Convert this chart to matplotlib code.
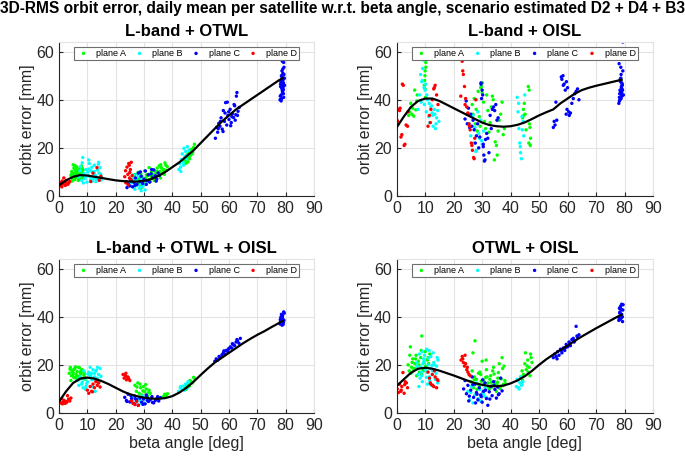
import matplotlib
matplotlib.use("Agg")
import matplotlib.pyplot as plt

plt.rcParams['font.family'] = ['Liberation Sans', 'DejaVu Sans']

suptitle = "3D-RMS orbit error, daily mean per satellite w.r.t. beta angle, scenario estimated D2 + D4 + B3"
panel_titles = ["L-band + OTWL", "L-band + OISL", "L-band + OTWL + OISL", "OTWL + OISL"]
plane_names = ["plane A", "plane B", "plane C", "plane D"]
plane_colors = ["#00ff00", "#00ffff", "#0000ff", "#ff0000"]
x_ticks = [0, 10, 20, 30, 40, 50, 60, 70, 80, 90]
y_ticks = [0, 20, 40, 60]

# ---------------- panel 1: L-band + OTWL ----------------
A1_beta = [4.2,4.5,4.8,5.0,5.1,5.3,5.5,5.6,5.8,6.0,
           6.1,6.3,6.5,6.6,6.8,7.0,7.1,7.3,7.5,7.7,
           7.9,8.1,8.3,8.5,8.7,4.6,5.4,6.2,7.2,8.0,
           26.2,26.8,27.3,27.9,28.4,28.8,29.3,29.7,30.2,30.6,
           31.1,31.5,32.0,32.4,32.9,33.3,33.8,34.2,34.7,35.1,
           35.6,36.0,36.5,37.0,37.4,37.9,27.0,28.1,29.9,31.8,
           33.6,35.4,36.8,38.2,44.2,44.6,45.0,45.3,45.7,46.0,
           46.3,46.7,47.0,47.4,47.8,45.5,46.5,47.2,44.8,46.1,
           47.6,45.9,
           26.5,27.6,28.9,30.4,31.3,32.6,33.9,34.9,35.8,36.3,
           37.2,37.7,29.1,30.9,32.2,34.4,35.9,28.2,33.1,36.9,
           4.4,5.2,5.9,6.4,6.9,7.4,7.8,8.2,8.6,5.7]
A1_err = [8.5,10.2,7.1,13.0,9.4,11.5,6.8,8.9,10.7,7.6,
          9.8,12.1,8.2,10.5,6.5,9.1,11.2,7.8,10.0,8.6,
          12.5,9.3,7.4,10.8,8.8,6.2,11.8,9.6,7.0,10.3,
          6.5,8.9,5.2,9.8,7.3,4.6,8.1,6.2,10.4,7.5,
          5.8,9.0,6.9,8.4,7.7,10.9,8.0,9.5,11.6,8.7,
          10.2,12.0,9.3,11.0,13.8,10.6,4.2,7.0,5.5,11.8,
          6.4,12.6,9.8,12.2,14.5,15.8,15.0,17.2,16.1,18.0,
          16.7,18.9,17.5,20.1,21.5,14.2,19.3,18.2,13.6,15.5,
          19.8,17.8,
          7.8,6.0,9.2,5.2,8.5,10.0,6.8,9.9,7.5,11.4,
          9.0,12.8,3.5,8.8,5.9,10.2,13.0,5.0,8.9,10.9,
          9.0,7.8,11.0,9.2,10.8,8.3,9.5,11.5,7.7,12.6]
B1_beta = [7.1,7.6,8.0,8.4,8.8,9.2,9.5,9.9,10.3,10.7,
           11.0,11.4,11.8,12.1,12.5,12.9,13.2,13.6,14.0,14.3,
           14.7,15.0,8.6,10.1,11.6,13.0,14.5,9.0,12.3,13.9,
           10.5,12.7,25.6,26.0,26.4,26.8,27.2,27.6,28.0,28.4,
           28.8,29.2,29.6,30.0,30.4,30.8,26.2,27.4,28.6,29.8,
           27.8,29.0,42.3,42.6,42.9,43.2,43.5,43.8,44.1,44.4,
           44.7,45.0,45.3,45.6,43.0,44.0,44.9,45.8,
           7.4,8.2,9.4,10.6,11.2,12.0,12.6,13.4,14.1,14.9]
B1_err = [8.0,12.2,6.5,16.0,9.3,7.2,11.0,5.8,8.6,13.5,
          7.9,10.4,6.2,9.7,12.8,8.3,6.9,10.9,14.0,7.5,
          9.1,8.0,5.4,10.0,12.0,6.0,11.8,9.0,7.3,13.2,
          15.0,8.8,5.5,3.8,7.2,2.8,6.0,4.4,8.3,3.2,
          5.2,7.0,4.0,6.6,2.5,5.8,8.8,6.4,3.5,4.8,
          9.2,2.2,11.0,13.5,12.0,15.2,17.5,14.0,19.8,16.3,
          18.5,15.5,20.5,17.0,10.2,12.8,16.8,19.0,
          10.5,13.8,8.0,11.2,6.8,8.0,10.2,7.6,9.6,6.6]
C1_beta = [24.0,24.5,25.0,25.5,26.0,26.5,27.0,27.5,28.0,28.5,
           29.0,29.5,30.0,30.5,31.0,31.5,32.0,32.5,33.0,33.5,
           34.0,34.5,35.0,35.5,25.2,26.8,28.7,30.8,32.7,34.3,
           55.2,55.6,56.0,56.4,56.8,57.2,57.6,58.0,58.4,58.8,
           59.2,59.6,60.0,60.4,60.8,61.2,61.6,62.0,62.4,62.8,
           63.2,63.6,56.2,57.9,59.4,61.0,62.6,58.6,60.6,62.2,
           57.0,59.9,61.8,63.0,78.0,78.2,78.4,78.6,78.8,79.0,
           79.2,79.4,79.6,78.1,78.5,78.9,79.3,78.3,78.7,79.1,
           79.5,78.4,78.8,79.2,78.6,79.0,78.2,79.4,
           78.9,79.1,78.7,79.3,78.5,79.0,78.8,79.2,78.6,79.4]
C1_err = [3.5,5.0,4.2,6.3,3.8,5.6,7.5,4.8,9.5,6.0,
          8.2,5.2,7.0,10.4,6.4,8.8,5.8,9.2,7.6,10.8,
          8.4,7.0,9.6,8.6,6.8,4.4,10.0,4.8,11.0,6.2,
          24.0,28.5,26.5,30.2,29.0,32.5,27.8,35.5,31.0,38.8,
          29.5,33.5,31.8,36.0,30.5,34.2,32.6,37.5,33.8,43.0,
          35.2,36.8,28.0,26.8,39.0,33.0,41.5,34.5,29.2,31.5,
          31.0,35.0,38.0,33.5,40.0,45.5,42.0,48.5,44.0,51.0,
          47.0,53.5,46.0,41.5,50.0,43.5,55.5,47.5,52.0,45.0,
          49.0,39.5,56.0,42.5,44.8,48.0,46.5,50.5,
          43.0,46.0,49.5,41.0,47.8,52.8,45.2,44.2,40.5,48.8]
D1_beta = [0.2,0.5,0.8,1.1,1.4,1.7,2.0,2.3,2.6,2.9,
           3.2,3.5,3.8,1.0,2.2,3.0,11.2,12.0,13.4,14.2,
           14.8,23.2,23.5,23.8,24.0,24.3,24.6,24.9,25.2,25.5,
           25.8,23.6,24.4,25.0,24.8,25.4]
D1_err = [4.2,5.5,4.8,6.2,5.0,7.5,5.8,4.6,6.5,5.2,
          4.9,5.6,6.0,3.8,4.4,5.1,6.0,9.5,11.8,6.5,
          8.2,8.0,10.5,6.0,12.0,9.0,13.5,7.5,11.0,14.0,
          8.5,5.5,4.6,9.8,12.8,6.8]
fit1_beta = [0,2.5,5,7.5,10,12.5,15,17.5,20,22.5,25,27.5,30,32.5,35,37.5,40,42.5,45,47.5,
             50,52.5,55,57.5,60,62.5,65,67.5,70,72.5,75,77.5,79]
fit1_err = [4.5,6.5,8.0,8.7,8.5,8.0,7.5,7.0,6.5,6.2,6.0,6.0,6.3,7.0,8.3,10.0,12.0,14.0,16.5,19.0,
            22.0,25.0,28.0,31.0,33.5,36.0,38.0,40.0,42.0,44.0,46.0,48.0,49.0]

# ---------------- panel 2: L-band + OISL ----------------
A2_beta = [4.2,4.5,4.9,5.3,5.6,6.0,6.3,6.7,7.0,7.2,
           9.8,10.0,10.2,10.1,9.9,10.3,10.0,10.4,9.7,10.2,
           26.5,26.8,27.2,27.6,27.9,28.3,28.6,29.0,29.3,29.7,
           30.1,30.5,30.8,31.2,31.6,32.0,32.4,32.8,33.2,33.6,
           33.9,34.3,34.6,35.0,35.3,35.6,36.0,36.5,37.0,37.4,
           37.8,44.2,44.5,44.8,45.1,45.4,46.2,46.5,46.8,47.0,
           46.4,46.6,46.9,44.6,29.5,30.0]
A2_err = [33.5,35.0,38.5,34.0,36.5,33.2,44.0,35.8,39.5,42.0,
          48.0,52.0,55.5,41.0,50.0,57.0,44.5,40.5,46.0,53.5,
          38.0,34.0,40.5,30.0,36.0,27.0,43.5,33.0,29.0,45.5,
          47.0,39.0,31.0,28.0,42.0,35.5,26.5,30.5,37.0,41.5,
          40.0,15.0,22.5,21.0,17.0,27.0,31.5,34.0,39.0,25.5,
          28.0,32.5,36.0,38.5,34.0,27.5,45.5,44.0,28.5,24.0,
          22.0,30.0,21.0,33.5,45.0,43.0]
B2_beta = [7.5,8.0,8.4,8.8,9.1,9.4,9.7,10.0,10.4,10.8,
           11.2,11.6,12.0,12.4,12.8,13.2,13.6,14.0,14.4,14.8,
           9.0,9.6,10.6,11.4,12.6,13.8,8.6,10.2,12.2,13.4,
           25.5,26.0,26.5,27.0,27.5,28.0,28.5,29.0,29.5,30.0,
           30.5,26.8,27.8,28.8,29.8,42.3,42.6,42.9,43.2,43.5,
           43.8,44.1,44.4,42.8,43.4,44.0,44.6,45.0]
B2_err = [36.0,42.0,50.5,47.5,53.0,56.5,38.0,44.0,35.0,40.0,
          33.0,30.5,37.0,34.5,29.0,36.0,28.0,32.5,35.5,31.0,
          48.0,45.0,42.0,38.5,33.5,30.0,39.0,46.5,37.5,34.0,
          30.0,25.0,33.0,22.0,28.5,19.0,35.0,24.0,31.5,21.5,
          27.0,33.5,18.5,26.0,23.0,41.0,35.0,28.0,22.0,18.0,
          15.5,27.5,31.0,38.5,20.5,33.0,25.0,42.0]
C2_beta = [24.0,24.4,24.8,25.2,25.6,26.0,26.4,26.8,27.2,27.6,
           28.0,28.4,28.8,29.2,29.6,30.0,30.4,30.8,31.2,31.6,
           32.0,32.4,32.8,33.2,33.6,34.0,34.4,34.8,35.2,35.6,
           29.8,30.2,30.6,31.0,29.6,30.4,55.0,55.3,55.6,55.9,
           56.2,58.0,58.4,58.8,59.2,59.6,60.0,60.4,59.8,60.6,
           61.0,61.5,62.0,62.5,63.0,63.5,64.0,58.5,57.8,59.5,
           78.0,78.2,78.4,78.6,78.8,79.0,79.2,79.4,79.6,78.1,
           78.5,78.9,79.3,78.3,78.7,79.1,79.5,78.4,78.8,79.2,
           78.6,79.0,78.2,79.4,78.9,79.1,78.7,79.3,78.5,79.0]
C2_err = [32.0,39.5,30.0,36.5,28.5,34.0,29.0,31.5,27.5,22.0,
          25.0,30.0,20.0,24.5,46.5,44.0,21.5,14.5,23.5,26.0,
          24.0,18.0,33.5,28.0,36.0,37.0,35.5,38.0,31.5,32.5,
          40.5,42.0,17.0,15.0,47.0,20.5,28.5,31.0,29.5,39.0,
          31.5,48.5,50.0,46.5,44.0,47.5,45.0,35.0,36.0,33.5,
          34.5,38.5,40.5,42.5,43.5,44.5,40.0,46.0,49.5,34.0,
          38.5,41.0,44.0,47.5,40.5,43.0,46.0,52.0,42.0,55.0,
          48.5,45.5,58.0,42.5,49.0,44.5,61.0,40.0,50.5,46.5,
          43.5,47.0,39.5,64.0,45.0,41.5,53.5,44.0,48.0,42.0]
D2_beta = [0.1,0.6,1.0,1.5,1.8,2.3,2.6,2.9,3.3,3.8,
           4.0,0.3,1.2,2.0,11.0,11.5,12.0,12.5,13.0,13.5,
           14.0,14.5,11.8,13.2,22.5,23.0,23.4,23.8,24.2,24.6,
           25.0,25.4,25.8,26.2,26.6,27.0,27.4,27.8,23.2,24.0,
           24.8,25.6,26.4,27.2]
D2_err = [31.5,36.0,35.5,24.5,25.5,46.0,21.0,21.5,29.5,29.0,
          35.0,31.0,36.5,46.5,29.0,33.5,36.0,40.0,44.5,46.0,
          42.0,38.0,30.5,45.0,41.5,56.0,50.5,45.5,40.5,37.0,
          34.5,30.0,27.5,22.0,19.0,16.0,24.0,40.0,52.0,38.0,
          34.0,29.0,21.0,15.5]
fit2_beta = [0,2.5,5,7.5,10,12.5,15,17.5,20,22.5,25,27.5,30,32.5,35,37.5,40,42.5,45,47.5,
             50,52.5,55,57.5,60,62.5,65,67.5,70,72.5,75,77.5,79]
fit2_err = [28.5,33.0,37.0,39.5,40.5,40.5,39.5,38.0,36.5,35.0,33.5,32.0,30.5,29.5,29.0,28.8,29.0,29.6,30.6,32.0,
            33.5,34.8,36.0,38.5,40.5,42.5,44.0,45.0,45.8,46.5,47.2,47.9,48.3]

# ---------------- panel 3: L-band + OTWL + OISL ----------------
A3_beta = [3.6,4.0,4.4,4.8,5.2,5.6,6.0,6.4,6.8,7.2,
           7.6,8.0,8.4,8.8,9.2,4.2,5.0,5.8,6.6,7.4,
           8.2,9.0,4.6,6.2,7.8,26.8,27.3,27.8,28.3,28.8,
           29.3,29.8,30.3,30.8,31.3,31.8,32.2,27.5,28.6,29.6,
           30.6,31.6,36.8,37.3,37.8,38.3,44.5,45.0,45.5,46.0,
           46.5,47.0,47.5,48.0,45.2,46.2,47.2,44.8,
           3.9,4.9,5.9,6.9,7.9,8.9,5.3,7.0]
A3_err = [16.5,19.0,15.5,17.8,14.8,18.5,16.0,17.2,15.2,18.8,
          16.2,14.5,17.5,15.8,14.0,13.5,16.8,19.2,13.8,17.0,
          18.0,15.0,17.2,15.5,16.6,11.5,9.0,12.5,8.2,10.5,
          7.5,11.0,8.8,10.0,7.0,9.5,8.2,10.8,12.0,9.2,
          11.8,8.5,6.8,7.8,7.2,8.0,10.5,11.5,12.0,11.2,
          13.0,12.5,14.8,14.2,10.8,13.5,12.8,9.8,
          18.2,16.0,14.5,19.0,17.8,16.8,18.2,14.6]
B3_beta = [6.5,7.0,7.5,8.0,8.5,9.0,9.5,10.0,10.5,11.0,
           11.5,12.0,12.5,13.0,13.5,14.0,14.5,8.2,9.2,10.2,
           11.2,12.2,13.2,14.2,7.2,12.8,25.8,26.5,27.2,27.9,
           28.6,29.3,30.0,30.7,26.2,27.6,29.0,30.4,42.2,42.8,
           43.4,44.0,44.6,45.2,45.8,43.0,44.3,45.5,
           9.8,10.8,11.8,12.6,13.6,14.8,8.8,11.6]
B3_err = [13.5,11.5,15.0,12.0,10.5,14.2,11.0,13.0,17.0,19.0,
          16.5,18.0,15.0,17.5,14.5,16.0,18.5,12.8,10.0,16.2,
          15.5,14.0,17.8,13.2,14.0,9.0,5.5,6.5,4.5,6.0,
          5.0,7.0,4.2,5.8,6.8,5.2,4.0,6.4,9.0,10.5,
          9.8,11.2,12.0,10.2,12.8,11.0,9.5,13.0,
          12.2,15.8,11.0,16.5,19.0,15.2,17.5,13.8]
C3_beta = [23.2,23.8,24.4,25.0,25.6,26.2,26.8,27.4,28.0,28.6,
           29.2,29.8,30.4,31.0,31.6,32.2,32.8,33.4,34.0,34.6,
           35.2,35.8,24.0,25.4,27.0,29.6,31.2,33.0,34.8,30.8,
           55.0,55.5,56.0,56.5,57.0,57.5,58.0,58.5,59.0,59.5,
           60.0,60.5,61.0,61.5,62.0,62.5,63.0,63.5,64.0,56.8,
           58.2,59.8,61.2,62.8,78.0,78.3,78.6,78.9,79.2,79.5,
           78.1,78.4,78.7,79.0,79.3,78.2,78.8,79.4,78.5,79.1]
C3_err = [6.5,5.2,7.8,4.6,6.0,4.0,7.0,5.5,3.2,6.2,
          4.5,5.8,3.8,6.6,4.8,5.5,6.8,4.2,5.2,6.0,
          5.0,6.4,4.8,7.2,5.8,3.6,5.2,4.4,6.8,7.5,
          21.5,22.5,22.0,23.5,23.0,24.2,25.0,24.5,26.0,25.5,
          26.8,27.5,27.0,28.5,28.0,29.5,30.0,29.0,31.0,23.0,
          25.8,26.5,28.8,30.5,37.0,39.5,38.0,40.5,37.5,41.5,
          38.8,40.0,36.5,39.0,42.0,37.8,39.8,38.5,41.0,36.8]
D3_beta = [0.2,0.6,1.0,1.4,1.8,2.2,2.6,3.0,3.4,3.8,
           4.2,1.2,2.8,10.0,10.5,11.0,11.5,12.0,12.5,13.0,
           13.5,14.0,14.5,11.8,13.2,22.6,23.0,23.4,23.8,24.2,
           24.6,25.0,23.6,24.4,25.6,26.2,26.8,27.4,28.0]
D3_err = [5.5,4.2,6.0,4.6,5.2,4.0,4.8,7.2,5.8,5.0,
          6.2,3.8,4.5,9.5,8.2,11.0,9.0,12.0,10.5,13.0,
          11.5,12.5,10.8,8.8,13.5,16.0,14.5,15.5,13.8,15.0,
          14.2,13.5,16.5,14.8,5.0,4.0,3.5,4.8,3.2]
fit3_beta = [0,2.5,5,7.5,10,12.5,15,17.5,20,22.5,25,27.5,30,32.5,35,37.5,40,42.5,45,47.5,
             50,52.5,55,57.5,60,62.5,65,67.5,70,72.5,75,77.5,79]
fit3_err = [4.7,9.0,12.5,14.3,14.7,14.3,13.3,12.0,10.5,9.0,7.8,7.0,6.4,6.0,5.9,6.2,7.0,8.5,10.5,13.0,
            15.8,18.5,21.0,23.0,25.0,27.0,29.0,30.8,32.5,34.0,35.7,37.3,38.3]

# ---------------- panel 4: OTWL + OISL ----------------
A4_beta = [4.0,4.4,4.8,5.2,5.6,6.0,6.4,6.8,7.2,7.6,
           8.0,8.4,8.8,9.2,9.6,10.0,10.4,10.8,11.2,11.6,
           5.0,5.4,6.2,7.0,7.8,8.6,9.4,10.2,11.0,8.8,
           4.6,6.6,26.0,26.5,27.0,27.5,28.0,28.5,29.0,29.5,
           30.0,30.5,31.0,31.5,32.0,32.5,33.0,33.5,34.0,34.5,
           35.0,35.5,36.0,36.5,37.0,37.5,38.0,26.8,27.3,28.2,
           29.2,30.2,31.2,32.2,33.2,34.2,35.2,36.2,37.2,38.2,
           43.5,44.0,44.5,45.0,45.5,46.0,46.5,47.0,47.5,44.2,
           45.2,46.2,47.2,45.8,46.8,
           27.2,28.7,30.7,31.7,32.7,33.7,34.7,35.7,36.7,37.7,
           29.7,31.4,33.4,35.4,37.4]
A4_err = [20.0,17.5,27.5,19.0,22.5,18.0,20.5,24.0,19.5,21.5,
          17.0,23.0,32.0,18.5,21.0,25.5,19.0,22.0,20.5,24.5,
          16.5,21.0,18.5,15.5,20.0,26.0,17.5,19.5,23.0,16.0,
          24.0,22.5,13.0,17.5,10.5,30.0,14.0,12.0,11.0,16.0,
          21.5,13.5,9.5,18.0,12.5,10.0,15.5,11.5,19.0,13.0,
          9.0,14.5,20.5,11.0,23.0,12.0,13.5,25.0,15.0,9.8,
          17.0,8.5,14.8,10.8,12.8,16.2,11.8,10.2,18.5,12.2,
          15.0,17.5,16.0,20.5,18.0,22.0,19.0,24.5,21.0,13.5,
          25.0,17.0,23.0,19.5,15.5,
          13.8,16.5,12.0,15.0,14.0,17.5,12.2,16.8,14.2,19.5,
          13.2,22.0,10.8,12.8,11.4]
B4_beta = [7.0,7.5,8.0,8.5,9.0,9.5,10.0,10.5,11.0,11.5,
           12.0,12.5,13.0,13.5,14.0,14.5,7.8,8.8,9.8,10.8,
           11.8,12.8,13.8,9.2,10.6,12.2,13.2,8.2,14.2,11.4,
           25.0,25.6,26.2,26.8,27.4,28.0,28.6,29.2,29.8,30.4,
           31.0,31.6,26.0,27.6,29.0,30.8,42.0,42.5,43.0,43.5,
           44.0,42.3,42.8,43.3,43.8,44.3,
           7.2,8.6,9.6,10.4,11.2,12.4,13.4,14.4,9.0,11.6]
B4_err = [21.0,16.0,24.5,19.0,13.0,22.5,18.0,26.5,20.0,15.0,
          23.5,17.5,21.0,14.0,19.5,22.0,11.0,15.5,24.0,12.0,
          18.5,25.0,16.5,20.5,17.0,11.5,20.0,14.5,23.0,26.0,
          9.0,5.5,11.0,4.2,7.5,12.5,6.0,9.8,4.8,8.0,
          10.5,6.5,8.5,12.0,5.2,7.0,11.0,13.5,10.0,15.0,
          12.0,14.0,10.5,12.5,11.5,13.0,
          19.5,17.0,21.5,14.8,22.8,19.8,17.8,12.5,25.5,13.5]
C4_beta = [23.5,24.0,24.5,25.0,25.5,26.0,26.5,27.0,27.5,28.0,
           28.5,29.0,29.5,30.0,30.5,31.0,31.5,32.0,32.5,33.0,
           33.5,34.0,34.5,35.0,35.5,36.0,36.5,37.0,25.3,26.7,
           28.2,29.7,31.2,32.7,34.2,35.7,30.2,27.7,55.0,55.5,
           56.0,56.5,57.0,57.5,58.0,58.5,59.0,59.5,60.0,60.5,
           61.0,61.5,62.0,62.5,63.0,63.5,64.0,56.3,57.8,59.3,
           60.8,62.3,63.3,78.0,78.3,78.6,78.9,79.2,79.5,78.1,
           78.4,78.7,79.0,79.3,78.2,78.8,79.4,78.5,79.1,79.0]
C4_err = [10.0,13.5,8.0,11.5,7.0,9.5,15.0,6.5,12.0,8.5,
          5.5,10.5,7.5,4.5,9.0,12.5,6.0,3.2,8.8,11.0,
          7.2,13.0,9.8,6.2,10.8,8.0,14.5,9.2,5.0,11.8,
          7.8,6.8,9.5,5.8,11.5,7.6,13.8,4.2,23.0,24.5,
          23.5,25.5,24.0,26.5,25.0,27.0,26.0,28.5,27.5,29.5,
          28.0,30.5,31.0,30.0,36.0,31.5,32.5,22.5,26.0,27.2,
          29.0,29.5,32.0,38.5,41.5,39.0,43.0,40.0,45.0,39.5,
          42.0,44.5,41.0,38.0,43.5,40.8,42.8,44.0,39.8,45.2]
D4_beta = [0.2,0.6,1.0,1.4,1.8,2.2,2.6,3.0,3.4,3.8,
           1.6,2.8,11.0,11.5,12.0,12.5,13.0,13.5,14.0,14.5,
           11.8,13.2,14.2,12.6,22.6,23.0,23.4,23.8,24.2,24.6,
           25.0,25.4,25.8,23.2,24.0,24.8]
D4_err = [10.0,8.5,12.0,9.0,11.0,16.8,8.2,13.0,12.5,10.5,
          9.5,11.8,17.0,14.5,12.0,16.0,11.0,15.0,10.5,13.5,
          12.5,17.5,14.0,11.5,22.0,23.5,21.0,19.5,20.5,18.0,
          17.0,16.0,15.5,22.5,24.0,19.0]
fit4_beta = [0,2.5,5,7.5,10,12.5,15,17.5,20,22.5,25,27.5,30,32.5,35,37.5,40,42.5,45,47.5,
             50,52.5,55,57.5,60,62.5,65,67.5,70,72.5,75,77.5,79]
fit4_err = [11.2,14.0,16.7,18.4,18.8,18.4,17.6,16.6,15.6,14.5,13.4,12.4,11.7,11.2,11.1,11.4,12.3,13.6,15.3,17.5,
            20.0,22.3,24.3,26.2,28.0,30.0,31.8,33.5,35.2,36.8,38.4,40.0,40.8]

panels = [
    ([(A1_beta, A1_err), (B1_beta, B1_err), (C1_beta, C1_err), (D1_beta, D1_err)], (fit1_beta, fit1_err)),
    ([(A2_beta, A2_err), (B2_beta, B2_err), (C2_beta, C2_err), (D2_beta, D2_err)], (fit2_beta, fit2_err)),
    ([(A3_beta, A3_err), (B3_beta, B3_err), (C3_beta, C3_err), (D3_beta, D3_err)], (fit3_beta, fit3_err)),
    ([(A4_beta, A4_err), (B4_beta, B4_err), (C4_beta, C4_err), (D4_beta, D4_err)], (fit4_beta, fit4_err)),
]

W, H = 685, 458
fig = plt.figure(figsize=(W / 100, H / 100), dpi=100)

axes_px = [(59, 42, 314, 196), (396.7, 42, 653, 196),
           (59, 259, 314, 413), (396.7, 259, 653, 413)]

dark = "#262626"
for i, ((series, fit), (x0, y0, x1, y1)) in enumerate(zip(panels, axes_px)):
    ax = fig.add_axes([x0 / W, 1 - y1 / H, (x1 - x0) / W, (y1 - y0) / H])
    for (b, e), name, col in zip(series, plane_names, plane_colors):
        ax.scatter(b, e, s=6, color=col, edgecolors='none', label=name, zorder=2)
    ax.plot(fit[0], fit[1], color='black', lw=1.6, zorder=3)
    ax.set_xlim(0, 90)
    ax.set_ylim(0, 64)
    ax.set_xticks(x_ticks)
    ax.set_yticks(y_ticks)
    ax.grid(True, color='#e3e3e3', lw=0.8, zorder=0)
    ax.set_axisbelow(True)
    ax.tick_params(direction='in', length=3, width=0.8, colors=dark, labelsize=11.5,
                   labelcolor=dark, top=False, right=False)
    for s in ['left', 'bottom']:
        ax.spines[s].set_color(dark)
        ax.spines[s].set_linewidth(0.8)
    for s in ['top', 'right']:
        ax.spines[s].set_color('#e3e3e3')
        ax.spines[s].set_linewidth(0.8)
    ax.set_title(panel_titles[i], fontsize=12, fontweight='bold', pad=4)
    ax.set_ylabel("orbit error [mm]", fontsize=11.5, color=dark, labelpad=1)
    if i >= 2:
        ax.set_xlabel("beta angle [deg]", fontsize=11.5, color=dark, labelpad=2)
    leg = ax.legend(loc='lower left', bbox_to_anchor=(0.059, 0.883, 0.882, 0.078), mode='expand',
                    ncol=4, fontsize=6.5, frameon=True, fancybox=False, markerscale=1.0,
                    handletextpad=0.6, borderpad=0.25, columnspacing=1.0, handlelength=1.6,
                    borderaxespad=0)
    leg.get_frame().set_edgecolor('#6e6e6e')
    leg.get_frame().set_linewidth(0.8)
    leg.get_frame().set_alpha(1)

fig.suptitle(suptitle, fontsize=11.2, fontweight='bold', y=0.997, va='top')
fig.savefig("out.png", dpi=100)
